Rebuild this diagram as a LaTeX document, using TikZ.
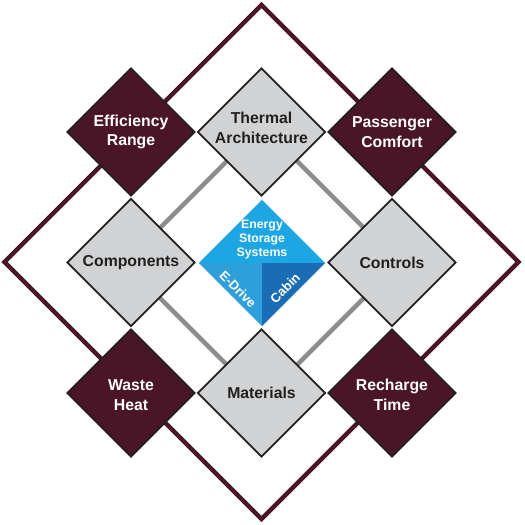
\documentclass[tikz,border=0pt]{standalone}
\usepackage{fontspec}
\setmainfont{Liberation Sans}
\usetikzlibrary{shapes.geometric}
\definecolor{wine}{HTML}{4A1527}
\definecolor{edgeblk}{HTML}{231F20}
\definecolor{tile}{HTML}{D1D2D4}
\definecolor{link}{HTML}{8C8C8E}
\definecolor{bluetop}{HTML}{1DA6E4}
\definecolor{blueleft}{HTML}{2E9FD9}
\definecolor{blueright}{HTML}{1A6DB5}
\tikzset{
  frame/.style={draw=wine, line width=4.5pt, line join=miter},
  linkline/.style={draw=link, line width=4.5pt},
  tilebox/.style={shape=diamond, minimum width=128pt, minimum height=128pt, inner sep=0pt, draw=edgeblk, line width=1.8pt},
  wbox/.style={tilebox, fill=wine},
  gbox/.style={tilebox, fill=tile},
  lbl/.style={font=\fontsize{15.8}{19.5}\selectfont\bfseries, align=center, inner sep=0pt},
  wlbl/.style={lbl, text=white},
  glbl/.style={lbl, text=edgeblk},
  blbl/.style={font=\fontsize{12.3}{14}\selectfont\bfseries, align=center, inner sep=0pt, text=white},
  rlbl/.style={font=\fontsize{13}{14}\selectfont\bfseries, inner sep=0pt, text=white},
}
\begin{document}
\begin{tikzpicture}[x=1pt,y=-1pt]
\useasboundingbox (0,0) rectangle (525,525);
\fill[white] (0,0) rectangle (525,525);
% outer frame
\coordinate (ot) at (261.5,5);
\coordinate (or) at (518.5,262);
\coordinate (ob) at (261.5,519);
\coordinate (ol) at (4.5,262);
\draw[frame] (ot) -- (or) -- (ob) -- (ol) -- cycle;
% gray links
\coordinate (gt) at (262,126);
\coordinate (gr) at (399,263);
\coordinate (gb) at (262,400);
\coordinate (gl) at (125,263);
\draw[linkline] (gt) -- (gr) -- (gb) -- (gl) -- cycle;
% tiles
\node[wbox] (eff) at (131,132) {};
\node[gbox] (thr) at (261.5,132) {};
\node[wbox] (pas) at (392,132) {};
\node[gbox] (com) at (131,262.5) {};
\node[gbox] (con) at (392,262.5) {};
\node[wbox] (was) at (131,393) {};
\node[gbox] (mat) at (261.5,393) {};
\node[wbox] (rec) at (392,393) {};
% centre
\node[shape=diamond, minimum width=126pt, minimum height=126pt, inner sep=0pt] (ess) at (262,263) {};
\fill[bluetop] (ess.west) -- (ess.north) -- (ess.east) -- cycle;
\fill[blueleft] (ess.west) -- (ess.center) -- (ess.south) -- cycle;
\fill[blueright] (ess.center) -- (ess.east) -- (ess.south) -- cycle;
% labels
\node[wlbl] (effl) at (131,132) {Efficiency\\Range};
\node[glbl] (thrl) at (261.5,128) {Thermal\\Architecture};
\node[wlbl] (pasl) at (392,132) {Passenger\\Comfort};
\node[glbl] (coml) at (131,262.5) {Components};
\node[glbl] (conl) at (392,262.5) {Controls};
\node[wlbl] (wasl) at (131,395) {Waste\\Heat};
\node[glbl] (matl) at (261.5,393) {Materials};
\node[wlbl] (recl) at (392,395) {Recharge\\Time};
\node[blbl] (essl) at (262,240) {Energy\\Storage\\Systems};
\node[rlbl, rotate=-45] (edl) at (238,289) {E-Drive};
\node[rlbl, rotate=45] (cabl) at (285,288) {Cabin};
\end{tikzpicture}
\end{document}
